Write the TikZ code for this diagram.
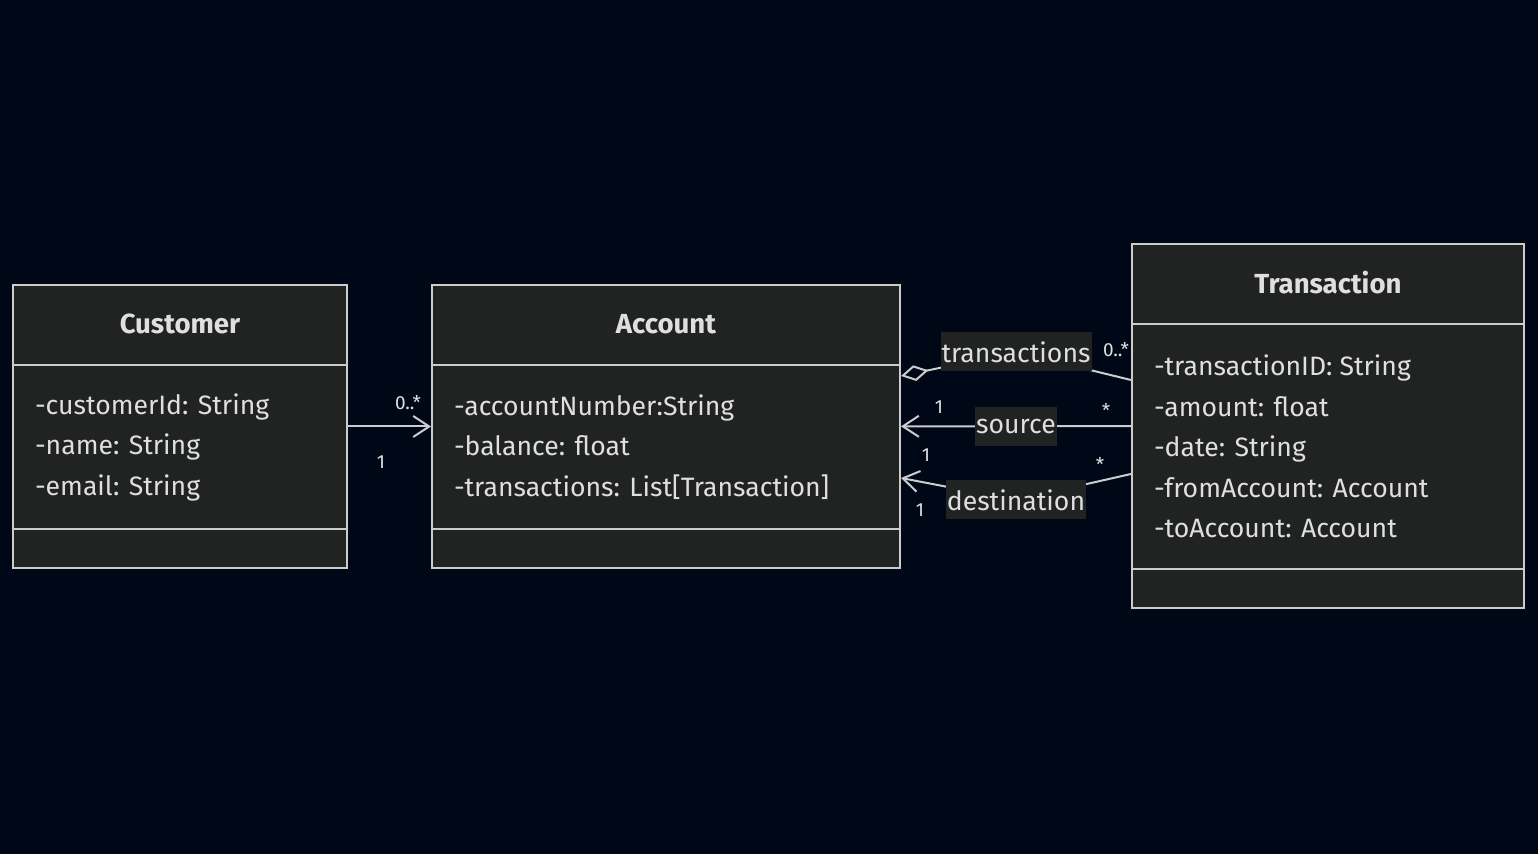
\documentclass[tikz,border=0pt]{standalone}
\usepackage{fontspec}
\setsansfont{Fira Sans}
\usetikzlibrary{arrows.meta, positioning, calc}
\definecolor{cbg}{HTML}{000818}
\definecolor{cbox}{HTML}{212222}
\definecolor{cline}{HTML}{CCCCCC}
\definecolor{ctext}{HTML}{E0DFDF}
\tikzset{
  every picture/.style={font=\sffamily, line width=1pt},
  cls/.style={draw=cline, fill=cbox, inner sep=0pt},
  title/.style={font=\sffamily\bfseries\fontsize{13.8}{15}\selectfont, text=ctext},
  attr/.style={font=\sffamily\fontsize{13.3}{20.25}\selectfont, text=ctext, align=left, anchor=west, inner sep=0pt},
  sep/.style={draw=cline, line width=0.8pt},
  rel/.style={draw=cline, line width=1pt},
  barb/.style={-{Straight Barb[length=8pt, width=10.5pt]}},
  lbl/.style={fill=cbox, text=ctext, font=\sffamily\fontsize{13.3}{15}\selectfont, inner xsep=0.5pt, minimum height=19.5pt},
  mult/.style={text=ctext, font=\sffamily\fontsize{9.5}{10}\selectfont, inner sep=0pt},
}
\begin{document}
\begin{tikzpicture}[x=0.5pt, y=-0.5pt]
  \fill[cbg] (0,0) rectangle (1538,854);
  \useasboundingbox (0,0) rectangle (1538,854);
  \node[cls, minimum width=167pt, minimum height=141.5pt] (customer) at (180,426.5) {};
  \node[cls, minimum width=234pt, minimum height=141.5pt] (account) at (666,426.5) {};
  \node[cls, minimum width=196pt, minimum height=182pt] (transaction) at (1328,426) {};
  \foreach \c in {customer, account, transaction} {
    \draw[sep] ([yshift=-40.5pt]\c.north west) -- ([yshift=-40.5pt]\c.north east);
    \draw[sep] ([yshift=20pt]\c.south west) -- ([yshift=20pt]\c.south east);}
  \node[title] (customerT) at (180,324) {Customer};
  \node[title] (accountT) at (666,324) {Account};
  \node[title] (transactionT) at (1328,283) {Transaction};
  \node[attr] (customerA) at (34,447) {-customerId: String\\-name: String\\-email: String};
  \node[attr] (accountA) at (453,447) {-accountNumber:String\\-balance: float\\-transactions: List[Transaction]};
  \node[attr] (transactionA) at (1153,446.5) {-transactionID: String\\-amount: float\\-date: String\\-fromAccount: Account\\-toAccount: Account};
  \draw[rel, barb] (customer) -- (account);
  \node[mult] (m1) at (408,403) {0..*};
  \node[mult] (m2) at (381,462) {1};
  \draw[rel, -{Diamond[open, length=14pt, width=8pt]}] ([yshift=23pt]transaction.west) -- (1016,352) node[lbl] (trl) {transactions} -- ([yshift=25.25pt]account.east);
  \draw[rel, barb] (transaction) -- node[lbl] (srl) {source} (account);
  \draw[rel, barb] ([yshift=-24pt]transaction.west) -- (1016,500) node[lbl] (dsl) {destination} -- ([yshift=-25.75pt]account.east);
  \node[mult] (m3) at (1116,350) {0..*};
  \node[mult] (m4) at (939,407) {1};
  \node[mult] (m5) at (1106,410) {*};
  \node[mult] (m6) at (926,455) {1};
  \node[mult] (m7) at (1100,464) {*};
  \node[mult] (m8) at (920,510) {1};
\end{tikzpicture}
\end{document}
